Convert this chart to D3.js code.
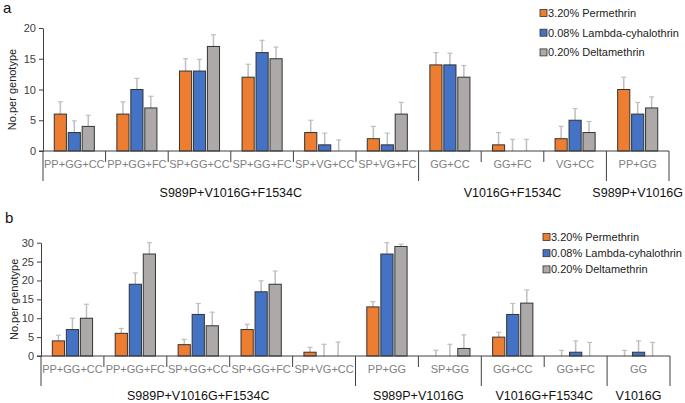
<!DOCTYPE html>
<html>
<head>
<meta charset="utf-8">
<script src="https://cdn.jsdelivr.net/npm/d3@7"></script>
<style>
  body { margin: 0; background: #fff; }
  text { font-family: "Liberation Sans", Arial, sans-serif; }
</style>
</head>
<body>
<script>
// panel a
var catsA = ['PP+GG+CC', 'PP+GG+FC', 'SP+GG+CC', 'SP+GG+FC', 'SP+VG+CC', 'SP+VG+FC', 'GG+CC', 'GG+FC', 'VG+CC', 'PP+GG'];
var permA = [6, 6, 13, 12, 3, 2, 14, 1, 2, 10];
var lambdaA = [3, 10, 13, 16, 1, 1, 14, 0, 5, 6];
var deltaA = [4, 7, 17, 15, 0, 6, 12, 0, 3, 7];
var permErrA = [2, 2, 2, 2.1, 2, 2, 2, 2, 2, 2];
var lambdaErrA = [1.9, 1.8, 1.9, 2, 1.9, 1.9, 1.9, 1.9, 1.9, 1.9];
var deltaErrA = [1.8, 1.9, 1.9, 1.9, 1.8, 1.9, 1.9, 1.9, 1.8, 1.8];
var groupNamesA = ['S989P+V1016G+F1534C', 'V1016G+F1534C', 'S989P+V1016G'];
var groupSizesA = [6, 3, 1];
var ticksA = [0, 5, 10, 15, 20];

// panel b
var catsB = ['PP+GG+CC', 'PP+GG+FC', 'SP+GG+CC', 'SP+GG+FC', 'SP+VG+CC', 'PP+GG', 'SP+GG', 'GG+CC', 'GG+FC', 'GG'];
var permB = [4, 6, 3, 7, 1, 13, 0, 5, 0, 0];
var lambdaB = [7, 19, 11, 17, 0, 27, 0, 11, 1, 1];
var deltaB = [10, 27, 8, 19, 0, 29, 2, 14, 0, 0];
var permErrB = [1.5, 1.3, 1.4, 1.4, 1.3, 1.4, 1.5, 1.3, 1.5, 1.5];
var lambdaErrB = [3, 3, 2.9, 2.9, 3.1, 3, 3.1, 2.9, 3, 3];
var deltaErrB = [3.7, 3, 3.6, 3.5, 3.7, 0.6, 3.6, 3.5, 3.6, 3.6];
var groupNamesB = ['S989P+V1016G+F1534C', 'S989P+V1016G', 'V1016G+F1534C', 'V1016G'];
var groupSizesB = [5, 2, 2, 1];
var ticksB = [0, 5, 10, 15, 20, 25, 30];

var seriesNames = ['3.20% Permethrin', '0.08% Lambda-cyhalothrin', '0.20% Deltamethrin'];
var colors = ['#ED7D31', '#4472C4', '#ADA9A9'];

var svg = d3.select('body').append('svg').attr('width', 685).attr('height', 403);

function drawPanel(o) {
  var g = svg.append('g');
  var x = d3.scaleBand().domain(o.cats).range([o.x0, o.x1]);
  var y = d3.scaleLinear().domain([0, o.max]).range([o.base, o.top]);
  var step = x.step();
  var inner = d3.scaleBand().domain([0, 1, 2]).range([step * 0.18, step * 0.82]).paddingInner(0.13);
  var series = [o.perm, o.lambda, o.delta];
  var errs = [o.permErr, o.lambdaErr, o.deltaErr];

  // error bars first
  series.forEach(function (vals, si) {
    g.selectAll('.err' + si).data(o.cats).enter().append('g')
      .each(function (c, i) {
        var cx = x(c) + inner(si) + inner.bandwidth() / 2;
        var e = d3.select(this);
        e.append('line').attr('x1', cx).attr('x2', cx)
          .attr('y1', y(vals[i])).attr('y2', y(vals[i] + errs[si][i]))
          .attr('stroke', '#bfbfbf').attr('stroke-width', 1.5);
        e.append('line').attr('x1', cx - 2.5).attr('x2', cx + 2.5)
          .attr('y1', y(vals[i] + errs[si][i])).attr('y2', y(vals[i] + errs[si][i]))
          .attr('stroke', '#bfbfbf').attr('stroke-width', 1.2);
      });
  });

  series.forEach(function (vals, si) {
    g.selectAll('.bar' + si).data(o.cats).enter().append('rect')
      .filter(function (c, i) { return vals[i] > 0; })
      .attr('x', function (c) { return x(c) + inner(si); })
      .attr('width', inner.bandwidth())
      .attr('y', function (c) { return y(vals[o.cats.indexOf(c)]); })
      .attr('height', function (c) { return o.base - y(vals[o.cats.indexOf(c)]); })
      .attr('fill', colors[si])
      .attr('stroke', '#333')
      .attr('stroke-width', 1);
  });

  // y axis
  var yAxis = d3.axisLeft(y).tickValues(o.ticks).tickSize(4).tickSizeOuter(0);
  var ya = g.append('g').attr('transform', 'translate(' + o.x0 + ',0)').call(yAxis);
  ya.select('.domain').attr('stroke', '#404040');
  ya.selectAll('.tick line').attr('stroke', '#404040');
  ya.selectAll('.tick text').attr('fill', '#404040').style('font-size', '11px')
    .style('font-family', '"Liberation Sans", Arial, sans-serif');

  // x baseline
  g.append('line').attr('x1', o.x0 - 4).attr('x2', o.x1).attr('y1', o.base).attr('y2', o.base)
    .attr('stroke', '#404040').attr('stroke-width', 1);

  // category labels
  g.selectAll('.cat').data(o.cats).enter().append('text')
    .attr('x', function (c) { return x(c) + step / 2; })
    .attr('y', o.base + 17)
    .attr('text-anchor', 'middle')
    .attr('fill', '#808080')
    .style('font-size', '11px')
    .text(function (c) { return c; });

  // separators
  var ends = [];
  var acc = 0;
  o.groupSizes.forEach(function (n) { acc += n; ends.push(acc); });
  d3.range(0, o.cats.length + 1).forEach(function (k) {
    var long = k === 0 || ends.indexOf(k) >= 0;
    var xx = k < o.cats.length ? x(o.cats[k]) : o.x1;
    g.append('line').attr('x1', xx).attr('x2', xx)
      .attr('y1', o.base).attr('y2', o.base + (long ? 30 : 11))
      .attr('stroke', '#404040').attr('stroke-width', 1);
  });

  // group labels
  var start = 0;
  o.groupNames.forEach(function (name, gi) {
    var a = x(o.cats[start]);
    var b = start + o.groupSizes[gi] < o.cats.length ? x(o.cats[start + o.groupSizes[gi]]) : o.x1;
    g.append('text').attr('x', (a + b) / 2).attr('y', o.base + o.gly)
      .attr('text-anchor', 'middle').attr('fill', '#111')
      .style('font-size', '12.5px').text(name);
    start += o.groupSizes[gi];
  });

  // y label
  g.append('text')
    .attr('transform', 'translate(' + o.ylx + ',' + ((o.base + o.top) / 2) + ') rotate(-90)')
    .attr('text-anchor', 'middle').attr('dy', '0.35em')
    .attr('fill', '#222').style('font-size', '11px')
    .text('No.per genotype');

  // panel letter
  g.append('text').attr('x', o.lx).attr('y', o.ly).attr('fill', '#111')
    .style('font-size', '15px').text(o.letter);

  // legend
  var lg = g.append('g');
  seriesNames.forEach(function (name, si) {
    var ly = o.legY + si * o.legStep;
    lg.append('rect').attr('x', o.legX).attr('y', ly - 3.5).attr('width', 7).attr('height', 7)
      .attr('fill', colors[si]).attr('stroke', '#333').attr('stroke-width', 0.8);
    lg.append('text').attr('x', o.legX + 8).attr('y', ly).attr('dy', '0.35em')
      .attr('fill', '#222').style('font-size', '11px').text(name);
  });
}

drawPanel({
  cats: catsA, perm: permA, lambda: lambdaA, delta: deltaA,
  permErr: permErrA, lambdaErr: lambdaErrA, deltaErr: deltaErrA,
  groupNames: groupNamesA, groupSizes: groupSizesA, ticks: ticksA, max: 20,
  x0: 43, x1: 669, top: 28, base: 151, ylx: 12, letter: 'a', lx: 3, ly: 13, gly: 46,
  legX: 540, legY: 13, legStep: 19.7
});

drawPanel({
  cats: catsB, perm: permB, lambda: lambdaB, delta: deltaB,
  permErr: permErrB, lambdaErr: lambdaErrB, deltaErr: deltaErrB,
  groupNames: groupNamesB, groupSizes: groupSizesB, ticks: ticksB, max: 30,
  x0: 41, x1: 670, top: 242.7, base: 356, ylx: 14, letter: 'b', lx: 5, ly: 223, gly: 43.5,
  legX: 543, legY: 237, legStep: 16.2
});
</script>
</body>
</html>
